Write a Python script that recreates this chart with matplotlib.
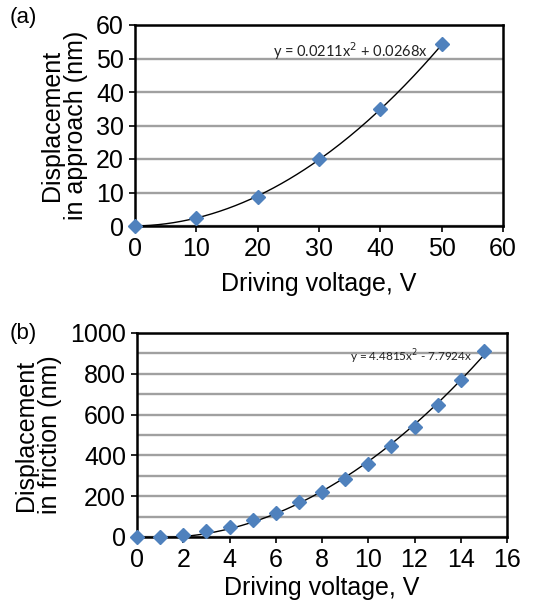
import numpy as np
import matplotlib
matplotlib.use("Agg")
import matplotlib.pyplot as plt
from matplotlib.ticker import MultipleLocator

plt.rcParams['font.family'] = ['Liberation Sans', 'DejaVu Sans']

# panel (a): approach
volt_a = [0, 10, 20, 30, 40, 50]
disp_a = [0, 2.3, 8.7, 20.0, 34.8, 54.3]
coef_a = [0.0211, 0.0268]

# panel (b): friction
volt_b = list(range(16))
disp_b = [0, 0, 11, 31, 50, 81, 120, 171, 223, 285, 360, 445, 539, 648, 769, 912]
coef_b = [4.4815, -7.7924]

W, H = 542, 603
fig = plt.figure(figsize=(W / 100, H / 100), dpi=100)

blue = '#4F81BD'
grid_c = '#a0a0a0'


def panel(rect, x, y, coef, xmax, xstep, ymax, ystep, grid_step, ylabel,
          eq, eq_xy, eq_size, xpad):
    ax = fig.add_axes(rect)
    ax.set_xlim(0, xmax)
    ax.set_ylim(0, ymax)
    ax.xaxis.set_major_locator(MultipleLocator(xstep))
    ax.yaxis.set_major_locator(MultipleLocator(ystep))
    ax.yaxis.set_minor_locator(MultipleLocator(grid_step))
    ax.grid(axis='y', which='both', color=grid_c, lw=1.7)
    ax.set_axisbelow(True)
    xs = np.linspace(0, x[-1], 200)
    ax.plot(xs, coef[0] * xs**2 + coef[1] * xs, color='black', lw=1.0, zorder=3)
    ax.plot(x, y, 'D', color=blue, ms=7, zorder=4, clip_on=False)
    for s in ax.spines.values():
        s.set_linewidth(1.8)
    ax.tick_params(axis='both', which='major', labelsize=18, direction='out',
                   length=4, width=1.2, pad=4)
    ax.tick_params(axis='y', which='minor', length=0)
    ax.set_xlabel('Driving voltage, V', fontsize=18, labelpad=xpad)
    ax.set_ylabel(ylabel, fontsize=18, labelpad=6, linespacing=1.0)
    ax.text(eq_xy[0], eq_xy[1], eq, transform=ax.transAxes, fontsize=eq_size,
            family=['Lato', 'DejaVu Sans'], ha='right', va='center', color='#222222')
    return ax


panel([135 / W, (H - 226) / H, 368 / W, 201 / H], volt_a, disp_a, coef_a,
      60, 10, 60, 10, 10, 'Displacement\nin approach (nm)',
      'y = 0.0211x$^2$ + 0.0268x', (0.795, 0.87), 10.5, 8)
panel([137 / W, (H - 537) / H, 370 / W, 204 / H], volt_b, disp_b, coef_b,
      16, 2, 1000, 200, 100, 'Displacement\nin friction (nm)',
      'y = 4.4815x$^2$ - 7.7924x', (0.905, 0.885), 8.5, 3)

fig.text(10 / W, 1 - 18 / H, '(a)', fontsize=16, va='center')
fig.text(10 / W, 1 - 333 / H, '(b)', fontsize=16, va='center')

fig.savefig('out.png', dpi=100)
